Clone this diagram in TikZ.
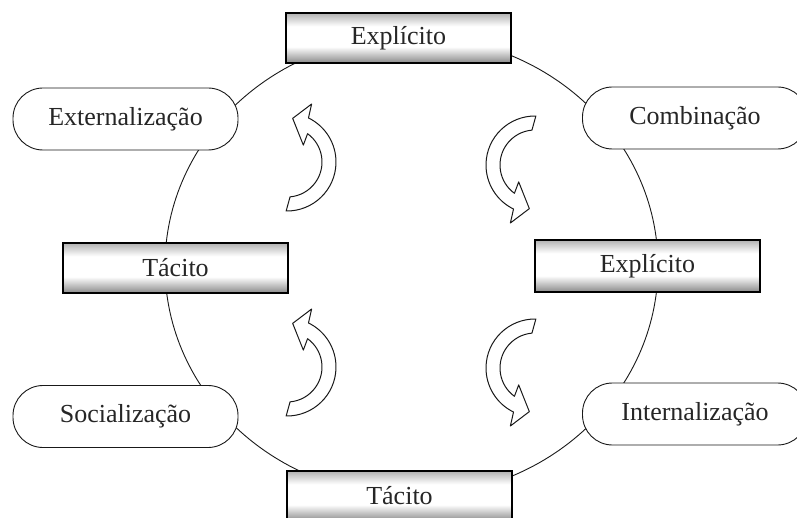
\documentclass[tikz,border=0pt]{standalone}
\usepackage{fontspec}
\setmainfont{Liberation Serif}
\usetikzlibrary{backgrounds}
\newcommand{\boxbands}[1]{%
  \begin{scope}[on background layer]
    \fill[white] (#1.north west) rectangle (#1.south east);
    \shade[top color=black!32, bottom color=white]
      (#1.north west) rectangle ([yshift=-14pt]#1.north east);
    \shade[top color=white, bottom color=black!48]
      ([yshift=17pt]#1.south west) rectangle (#1.south east);
  \end{scope}}
\begin{document}
\begin{tikzpicture}[x=1pt,y=-1pt,
  kbox/.style={draw=black, line width=1.4pt,
    minimum width=225pt, minimum height=50pt, inner sep=0pt,
    text=black!85, font=\fontsize{26}{30}\selectfont},
  mode/.style={draw=black!90, line width=0.9pt, fill=white, rounded corners=30pt,
    minimum width=225pt, minimum height=62pt, inner sep=0pt,
    text=black!85, font=\fontsize{26}{30}\selectfont},
  ring/.style={draw=black!90, line width=0.9pt},
  arrowline/.style={draw=black!90, line width=1pt, fill=white, line join=round},
  carrow/.pic={
    \path[arrowline] (91:49) arc[start angle=91, end angle=-64, radius=49]
      -- (-67:63) -- (-82.6:44) -- (-46:23.5) -- (-54:35)
      arc[start angle=-54, end angle=85, radius=35] -- cycle;
  }]
\useasboundingbox (0,0) rectangle (797,518);
\coordinate (c) at (411.5,266);
\begin{scope}[on background layer]
  \draw[ring] (c) ellipse [x radius=246.5, y radius=230];
\end{scope}

\node[kbox] (e1) at (398.5,38) {Explícito};
\node[kbox] (t1) at (175.5,268) {Tácito};
\node[kbox, minimum height=52pt] (e2) at (647.5,266) {Explícito};
\node[kbox] (t2) at (399.5,496) {Tácito};
\boxbands{e1}
\boxbands{t1}
\boxbands{e2}
\boxbands{t2}

\node[mode] (ext) at (125.5,119) {Externalização};
\node[mode] (comb) at (695,118) {Combinação};
\node[mode] (soc) at (125.5,416.5) {Socialização};
\node[mode] (intl) at (695,414) {Internalização};

\pic at (287,162) {carrow};
\pic at (287,367) {carrow};
\pic[rotate=180] at (535,165) {carrow};
\pic[rotate=180] at (535,368) {carrow};
\end{tikzpicture}
\end{document}
